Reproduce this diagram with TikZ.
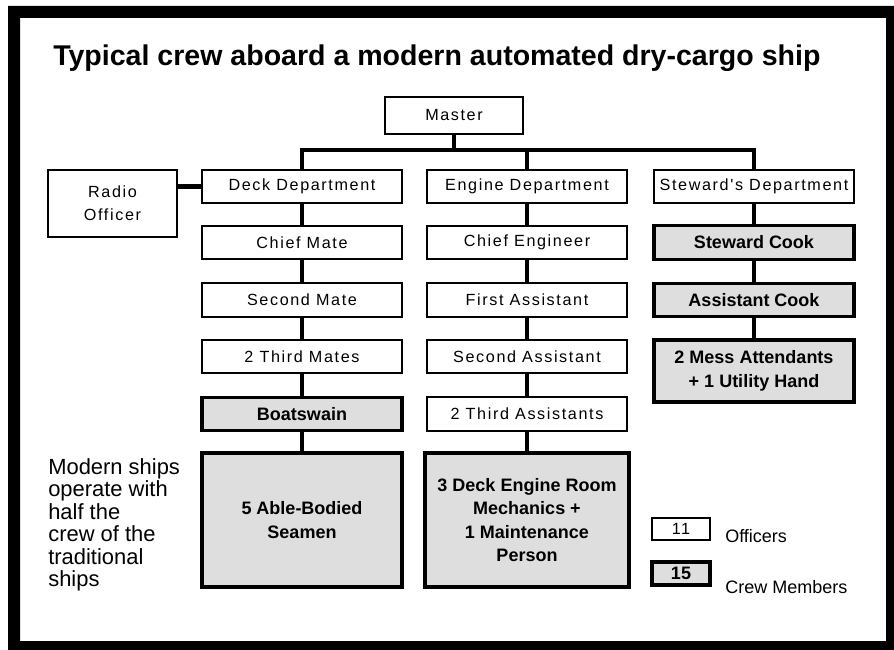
\documentclass[tikz,border=0pt]{standalone}
\usepackage{fontspec}
\setmainfont{Liberation Sans}
\newfontfamily\spacedfont[LetterSpace=10]{Liberation Sans}

\begin{document}
\begin{tikzpicture}[x=0.025cm,y=-0.025cm,
    officer/.style={draw,line width=1.4pt,fill=white,inner sep=0pt,
      minimum width=5cm,minimum height=0.83cm,align=center,
      font=\spacedfont\fontsize{11.5}{16.4}\selectfont},
    crew/.style={officer,line width=2.2pt,fill=black!13,
      font=\bfseries\fontsize{12.8}{16.8}\selectfont},
    link/.style={line width=3pt}]
  % page and black frame
  \fill[white] (0,0) rectangle (894,650);
  \useasboundingbox (0,0) rectangle (894,650);
  \fill[black,even odd rule] (8,6) rectangle (894,650) (20,18) rectangle (886,641);
  \node[anchor=base west,inner sep=0pt,font=\bfseries\fontsize{20.3}{24}\selectfont]
    (title) at (53,66) {Typical crew aboard a modern automated dry-cargo ship};

  % top of the chart
  \node[officer,minimum width=3.45cm,minimum height=0.925cm] (master) at (454,115.5) {Master};
  \node[officer,minimum width=3.225cm,minimum height=1.675cm] (radio) at (112.5,203.5) {Radio\\Officer};
  \coordinate (bar) at (454,150);

  % deck department
  \node[officer] (deck) at (302,186.5) {Deck Department};
  \node[officer] (chiefmate) at (302,242.5) {Chief Mate};
  \node[officer] (secondmate) at (302,300) {Second Mate};
  \node[officer] (thirdmates) at (302,356.5) {2 Third Mates};
  \node[crew] (boatswain) at (302,414) {Boatswain};
  \node[crew,minimum height=3.35cm] (seamen) at (302,520) {5 Able-Bodied\\Seamen};

  % engine department
  \node[officer] (engine) at (527,186.5) {Engine Department};
  \node[officer] (chiefeng) at (527,242.5) {Chief Engineer};
  \node[officer] (firstasst) at (527,300) {First Assistant};
  \node[officer] (secondasst) at (527,356.5) {Second Assistant};
  \node[officer] (thirdassts) at (527,414) {2 Third Assistants};
  \node[crew,minimum width=5.1cm,minimum height=3.35cm] (mechanics) at (527,520)
    {3 Deck Engine Room\\Mechanics +\\1 Maintenance\\Person};

  % steward's department
  \node[officer] (steward) at (754,186.5) {Steward's Department};
  \node[crew] (cook) at (754,242.5) {Steward Cook};
  \node[crew] (asstcook) at (754,300) {Assistant Cook};
  \node[crew,minimum height=1.55cm] (mess) at (754,371) {2 Mess Attendants\\+ 1 Utility Hand};

  % note and key
  \node[anchor=north west,align=left,inner sep=0pt,font=\fontsize{15.6}{16}\selectfont]
    (note) at (48,458) {Modern ships\\operate with\\half the\\crew of the\\traditional\\ships};
  \node[officer,minimum width=1.45cm,minimum height=0.55cm] (keyofficer) at (681,529) {11};
  \node[crew,minimum width=1.45cm,minimum height=0.575cm] (keycrew) at (681,573.5) {15};
  \node[anchor=base west,inner sep=0pt,font=\fontsize{12.8}{15}\selectfont] (officerlabel) at (725,542) {Officers};
  \node[anchor=base west,inner sep=0pt,font=\fontsize{12.8}{15}\selectfont] (crewlabel) at (725,593) {Crew Members};

  % connections
  \draw[link] (master) -- (bar);
  \draw[link] (deck.north) |- (bar) -| (steward.north);
  \draw[link] (engine.north) -- (engine.north |- bar);
  \draw[link] (deck.west) -- (deck.west -| radio.east);
  \foreach \upper/\lower in {deck/chiefmate,chiefmate/secondmate,secondmate/thirdmates,
      thirdmates/boatswain,boatswain/seamen,
      engine/chiefeng,chiefeng/firstasst,firstasst/secondasst,secondasst/thirdassts,
      thirdassts/mechanics,
      steward/cook,cook/asstcook,asstcook/mess}
    \draw[link] (\upper) -- (\lower);
\end{tikzpicture}
\end{document}
